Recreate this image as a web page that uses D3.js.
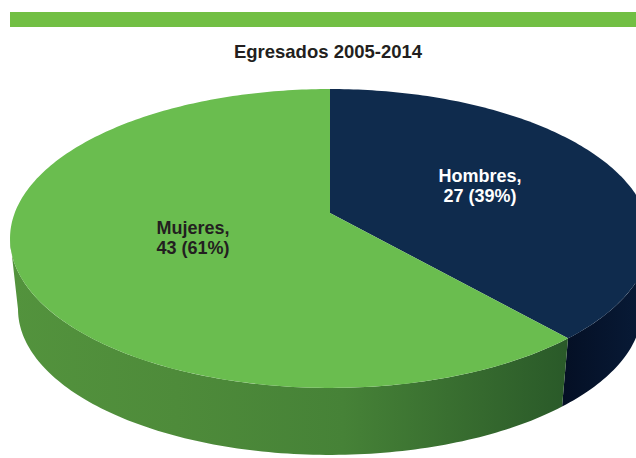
<!DOCTYPE html>
<html>
<head>
<meta charset="utf-8">
<script src="https://cdn.jsdelivr.net/npm/d3@7"></script>
<style>
  html, body { margin: 0; padding: 0; background: #ffffff; }
  svg { display: block; }
</style>
</head>
<body>
<svg id="chart" width="636" height="458"></svg>
<script>
// Egresados 2005-2014 by sex
const categories = ["Hombres", "Mujeres"];
const values = [27, 43];
const chartTitle = "Egresados 2005-2014";

const topColors = ["#0f2b4d", "#6abd4f"];
const labelColors = ["#ffffff", "#231f20"];

const W = 636, H = 458;
const svg = d3.select("#chart");

// Header band
svg.append("rect")
  .attr("x", 10).attr("y", 12).attr("width", W - 10).attr("height", 15)
  .attr("fill", "#72bf44");

svg.append("text")
  .attr("x", 328).attr("y", 57.5)
  .attr("text-anchor", "middle")
  .attr("font-family", "'Liberation Sans', Arial, sans-serif")
  .attr("font-weight", "bold")
  .attr("font-size", 18.5)
  .attr("fill", "#231f20")
  .text(chartTitle);

// Perspective projection of a unit disk lying on a tilted plane
const cx = 330, cy = 213;       // projected centre of the disk
const A = 315.3, B = 145.1;     // horizontal / vertical radii factors
const k = -0.1705;              // perspective foreshortening
// Bottom face: top face shrunk toward a vanishing point far below
const vanishY = 3068, shrink = 0.975;

function project(angle, r = 1) {
  const u = r * Math.sin(angle), v = -r * Math.cos(angle);
  const w = 1 + k * v;
  return [cx + A * u / w, cy + B * v / w];
}
function projectBottom(angle) {
  const [x, y] = project(angle);
  return [cx + (x - cx) * shrink, vanishY + (y - vanishY) * shrink];
}

const pie = d3.pie().sort(null).value(d => d)(values);
const total = d3.sum(values);

// Visible rim runs between the silhouette angles (left and right extremes)
const rimStart = Math.PI - Math.acos(-k);      // right-most point
const rimEnd = Math.PI + Math.acos(-k);        // left-most point

function sampleAngles(a0, a1, n = 120) {
  const steps = Math.max(2, Math.ceil(Math.abs(a1 - a0) / (2 * Math.PI) * n * 3));
  return d3.range(steps + 1).map(i => a0 + (a1 - a0) * i / steps);
}

const line = d3.line();
const defs = svg.append("defs");

// Rim gradients
const gMuj = defs.append("linearGradient")
  .attr("id", "rimMujeres").attr("gradientUnits", "userSpaceOnUse")
  .attr("x1", 10).attr("y1", 0).attr("x2", 565).attr("y2", 0);
[[0, "#53933d"], [0.3, "#4e8b3a"], [0.6, "#468237"], [0.85, "#35692e"], [1, "#2a5a29"]]
  .forEach(([o, c]) => gMuj.append("stop").attr("offset", o).attr("stop-color", c));

const gHom = defs.append("linearGradient")
  .attr("id", "rimHombres").attr("gradientUnits", "userSpaceOnUse")
  .attr("x1", 561).attr("y1", 0).attr("x2", 640).attr("y2", 0);
[[0, "#040f24"], [1, "#081a36"]]
  .forEach(([o, c]) => gHom.append("stop").attr("offset", o).attr("stop-color", c));

const rimFills = ["url(#rimHombres)", "url(#rimMujeres)"];

const gPie = svg.append("g");

// Side walls
pie.forEach((p, i) => {
  const a0 = Math.max(p.startAngle, rimStart);
  const a1 = Math.min(p.endAngle, rimEnd);
  if (a1 <= a0) return;
  const angles = sampleAngles(a0, a1);
  const pts = angles.map(a => project(a))
    .concat(angles.slice().reverse().map(a => projectBottom(a)));
  gPie.append("path")
    .attr("d", line(pts) + "Z")
    .attr("fill", rimFills[i]);
});

// Top faces
pie.forEach((p, i) => {
  const angles = sampleAngles(p.startAngle, p.endAngle);
  const pts = [[cx, cy]].concat(angles.map(a => project(a)));
  gPie.append("path")
    .attr("d", line(pts) + "Z")
    .attr("fill", topColors[i]);
});

// Data labels
const pct = d3.format(".0%");
const labelPos = [[480, 182], [193, 234]];
pie.forEach((p, i) => {
  const t = svg.append("text")
    .attr("text-anchor", "middle")
    .attr("font-family", "'Liberation Sans', Arial, sans-serif")
    .attr("font-weight", "bold")
    .attr("font-size", 18)
    .attr("fill", labelColors[i]);
  t.append("tspan").attr("x", labelPos[i][0]).attr("y", labelPos[i][1])
    .text(categories[i] + ",");
  t.append("tspan").attr("x", labelPos[i][0]).attr("y", labelPos[i][1] + 19.5)
    .text(`${values[i]} (${pct(values[i] / total)})`);
});
</script>
</body>
</html>
